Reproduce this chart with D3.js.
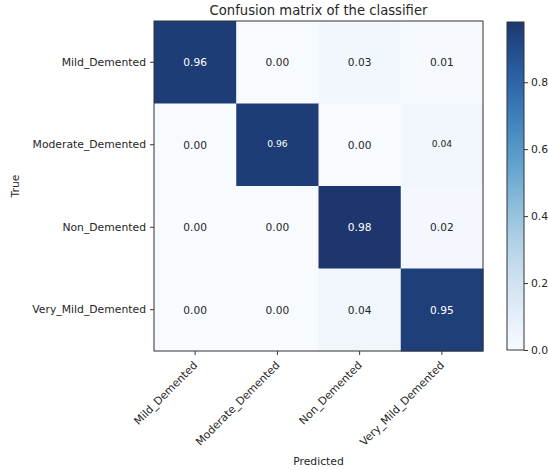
<!DOCTYPE html>
<html>
<head>
<meta charset="utf-8">
<script src="https://cdn.jsdelivr.net/npm/d3@7"></script>
<style>
  html, body { margin: 0; padding: 0; background: #fff; }
  text { font-family: "DejaVu Sans", sans-serif; fill: #262626; }
</style>
</head>
<body>
<svg id="chart" width="548" height="470"></svg>
<script>
// Class names (rows = true label, columns = predicted label)
const classes = ["Mild_Demented", "Moderate_Demented", "Non_Demented", "Very_Mild_Demented"];

// Normalized confusion matrix, one array per true class
const rowMild       = [0.96, 0.00, 0.03, 0.01];
const rowModerate   = [0.00, 0.96, 0.00, 0.04];
const rowNon        = [0.00, 0.00, 0.98, 0.02];
const rowVeryMild   = [0.00, 0.00, 0.04, 0.95];
const matrix = [rowMild, rowModerate, rowNon, rowVeryMild];

// Colorbar tick labels
const colorbarTicks = [0.0, 0.2, 0.4, 0.6, 0.8];

const svg = d3.select("#chart");

const plot = { left: 154, top: 21, width: 329, height: 330 };
const tickFont = "10.8px";

const x = d3.scaleBand().domain(d3.range(classes.length)).range([plot.left, plot.left + plot.width]);
const y = d3.scaleBand().domain(d3.range(classes.length)).range([plot.top, plot.top + plot.height]);

const vmax = d3.max(matrix.flat());

// Blues colormap with a slightly softened dark end
const mutedBlues = t => {
  const c = d3.hcl(d3.interpolateBlues(t));
  c.c *= 0.92;
  c.l = c.l * 0.96 + 4;
  return c.formatHex();
};
const color = d3.scaleSequential(mutedBlues).domain([0, vmax]);

const cells = [];
matrix.forEach((row, i) => row.forEach((v, j) => cells.push({ i, j, v })));

// Non-zero entries of the second row are printed a little smaller
const smallCell = d => d.i === 1 && d.v > 0;

// Heatmap cells
svg.append("g").selectAll("rect")
  .data(cells)
  .join("rect")
  .attr("x", d => x(d.j))
  .attr("y", d => y(d.i))
  .attr("width", x.bandwidth() + 0.5)
  .attr("height", y.bandwidth() + 0.5)
  .attr("fill", d => color(d.v));

// Cell annotations
svg.append("g").selectAll("text")
  .data(cells)
  .join("text")
  .attr("x", d => x(d.j) + x.bandwidth() / 2)
  .attr("y", d => y(d.i) + y.bandwidth() / 2 - (smallCell(d) ? 1.5 : 0))
  .attr("text-anchor", "middle")
  .attr("dominant-baseline", "central")
  .style("font-size", d => smallCell(d) ? "9.2px" : "10.6px")
  .style("fill", d => d.v > vmax / 2 ? "#ffffff" : "#262626")
  .text(d => d.v.toFixed(2));

// Frame around the axes
svg.append("rect")
  .attr("x", plot.left).attr("y", plot.top)
  .attr("width", plot.width).attr("height", plot.height)
  .attr("fill", "none").attr("stroke", "#333").attr("stroke-width", 1);

// Y axis (true labels)
const yAxis = d3.axisLeft(y).tickSize(4).tickPadding(4).tickFormat(i => classes[i]);
const gy = svg.append("g").attr("transform", `translate(${plot.left},0)`).call(yAxis);
gy.select(".domain").remove();
gy.selectAll("line").attr("stroke", "#333");
gy.selectAll("text").style("font-size", tickFont).style("font-family", "DejaVu Sans, sans-serif").attr("fill", "#262626");

// X axis (predicted labels), rotated 45 degrees
const xAxis = d3.axisBottom(x).tickSize(4).tickFormat(i => classes[i]);
const gx = svg.append("g").attr("transform", `translate(0,${plot.top + plot.height})`).call(xAxis);
gx.select(".domain").remove();
gx.selectAll("line").attr("stroke", "#333");
gx.selectAll("text")
  .style("font-size", tickFont)
  .style("font-family", "DejaVu Sans, sans-serif")
  .attr("fill", "#262626")
  .attr("text-anchor", "end")
  .attr("dy", null)
  .attr("y", 0)
  .attr("transform", "translate(3,15) rotate(-45)");

// Title and axis titles
svg.append("text")
  .attr("x", plot.left + plot.width / 2).attr("y", 15)
  .attr("text-anchor", "middle").style("font-size", "13.2px")
  .text("Confusion matrix of the classifier");

svg.append("text")
  .attr("x", plot.left + plot.width / 2).attr("y", 465)
  .attr("text-anchor", "middle").style("font-size", tickFont)
  .text("Predicted");

svg.append("text")
  .attr("transform", `translate(19,${plot.top + plot.height / 2}) rotate(-90)`)
  .attr("text-anchor", "middle").style("font-size", tickFont)
  .text("True");

// Colorbar
const cb = { left: 507, width: 17, top: 22, height: 328 };
const cbScale = d3.scaleLinear().domain([0, vmax]).range([cb.top + cb.height, cb.top]);

const defs = svg.append("defs");
const grad = defs.append("linearGradient")
  .attr("id", "cbGrad").attr("x1", 0).attr("y1", 1).attr("x2", 0).attr("y2", 0);
d3.range(0, 1.0001, 0.05).forEach(t => {
  grad.append("stop").attr("offset", t).attr("stop-color", color(t * vmax));
});

svg.append("rect")
  .attr("x", cb.left).attr("y", cb.top)
  .attr("width", cb.width).attr("height", cb.height)
  .attr("fill", "url(#cbGrad)")
  .attr("stroke", "#333").attr("stroke-width", 1);

const cbAxis = d3.axisRight(cbScale).tickValues(colorbarTicks).tickSize(4).tickPadding(3).tickFormat(d3.format(".1f"));
const gcb = svg.append("g").attr("transform", `translate(${cb.left + cb.width},0)`).call(cbAxis);
gcb.select(".domain").remove();
gcb.selectAll("line").attr("stroke", "#333");
gcb.selectAll("text").style("font-size", tickFont).style("font-family", "DejaVu Sans, sans-serif").attr("fill", "#262626");
</script>
</body>
</html>
